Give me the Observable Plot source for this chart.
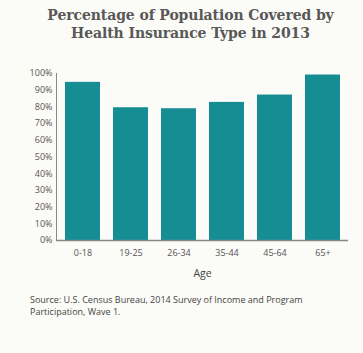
<!DOCTYPE html>
<html><head><meta charset="utf-8">
<script src="https://cdn.jsdelivr.net/npm/d3@7"></script>
<script src="https://cdn.jsdelivr.net/npm/@observablehq/plot@0.6"></script>
<style>
html,body{margin:0;padding:0;background:#fbfbf7;}
#wrap{position:relative;width:363px;height:353px;overflow:hidden;background:#fbfbf7;}
#title{position:absolute;left:18px;top:6px;width:345px;text-align:center;font-family:"DejaVu Serif",serif;font-weight:bold;font-size:14px;line-height:18px;color:#585858;letter-spacing:-0.1px;}
#chart{position:absolute;left:0;top:60px;}
#source{position:absolute;left:30px;top:294px;font-family:"Open Sans",sans-serif;font-size:9px;line-height:12px;color:#444;}
</style></head>
<body><div id="wrap">
<div id="title">Percentage of Population Covered by<br>Health Insurance Type in 2013</div>
<div id="chart"></div>
<div id="source">Source: U.S. Census Bureau, 2014 Survey of Income and Program<br>Participation, Wave 1.</div>
</div>
<script>
const ages = ["0-18","19-25","26-34","35-44","45-64","65+"];
const coverage = [0.947, 0.795, 0.789, 0.827, 0.871, 0.991];
const yTicks = [0,0.1,0.2,0.3,0.4,0.5,0.6,0.7,0.8,0.9,1.0];
const data = ages.map((a,i)=>({age:a, value:coverage[i]}));
const plot = Plot.plot({
  width: 363, height: 225,
  marginLeft: 56, marginRight: 15, marginTop: 13, marginBottom: 45,
  style: {background: "transparent", fontFamily: "'Open Sans', sans-serif", fontSize: "9px", color: "#555"},
  x: {domain: ages, paddingInner: 0.278, paddingOuter: 0.146},
  y: {domain: [0,1]},
  marks: [
    Plot.barY(data, {x: "age", y: "value", fill: "#168d93"}),
    Plot.frame({anchor: "left", stroke: "#888"}),
    Plot.ruleY([0], {stroke: "#888", strokeWidth: 1.5}),
    Plot.axisX({tickSize: 0, tickPadding: 9, label: "Age", labelAnchor: "center", labelOffset: 36, fontSize: 9, letterSpacing: 0.5}),
    Plot.axisY({ticks: yTicks, tickFormat: d3.format(".0%"), tickSize: 0, tickPadding: 4, label: null})
  ]
});
document.getElementById("chart").appendChild(plot);
d3.select(plot).selectAll("[aria-label='x-axis label'] text").style("font-size","10.5px").style("fill","#444");
</script>
</body></html>
